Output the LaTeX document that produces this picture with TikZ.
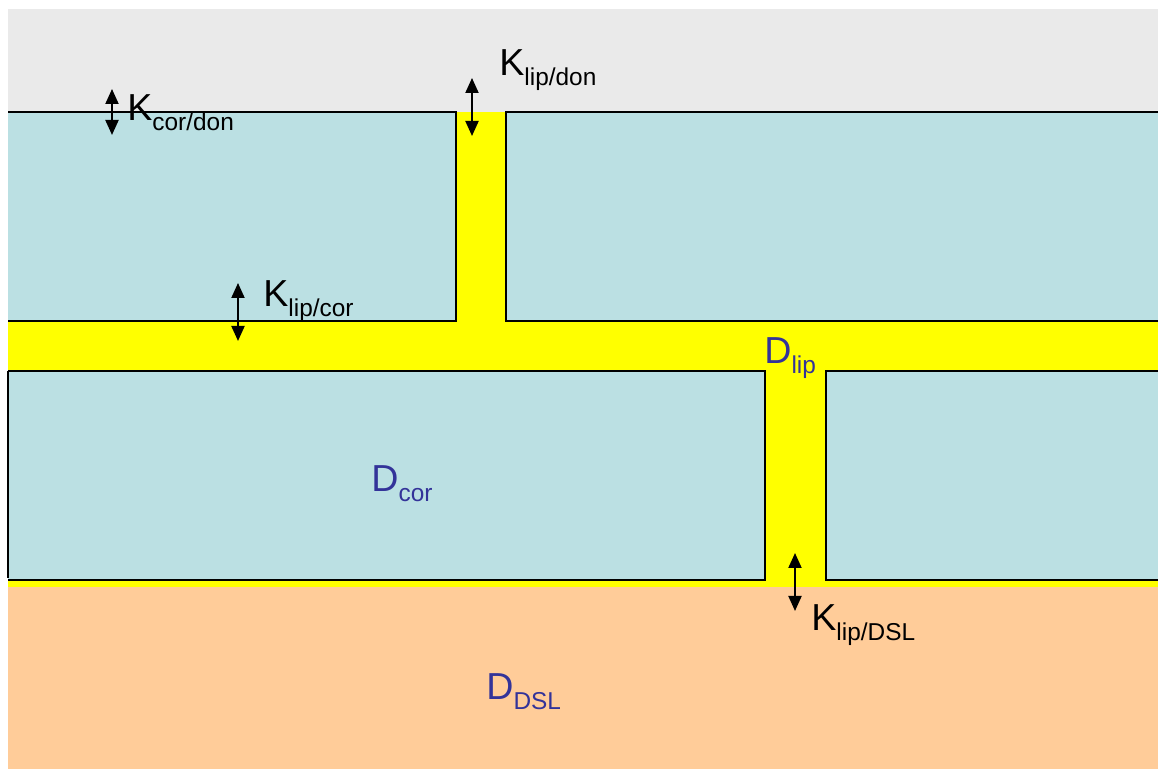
\documentclass[tikz,border=0pt]{standalone}
\usepackage{fontspec}
\setmainfont{Liberation Sans}
\usetikzlibrary{arrows.meta}
\definecolor{donor}{HTML}{EAEAEA}
\definecolor{cortex}{HTML}{BBE0E3}
\definecolor{lipid}{HTML}{FFFF00}
\definecolor{dsl}{HTML}{FFCC99}
\definecolor{dlabel}{HTML}{333399}
\newcommand{\lbl}[2]{\fontsize{18.8}{21}\selectfont #1\raisebox{-5pt}{\fontsize{12.2}{14}\selectfont #2}}
\tikzset{
  edge/.style={draw=black, line width=0.75pt},
  kflux/.style={line width=1pt, {Triangle[width=6.5pt,length=7.5pt]}-{Triangle[width=6.5pt,length=7.5pt]}},
  klabel/.style={anchor=base west, inner sep=0pt, text=black},
  dtext/.style={anchor=base west, inner sep=0pt, text=dlabel}
}
\begin{document}
\begin{tikzpicture}[x=0.5pt,y=-0.5pt]
\useasboundingbox (0,0) rectangle (1158,769);
\fill[white] (0,0) rectangle (1158,769);
% donor (gray) layer
\fill[donor] (8,9) rectangle (1158,112);
% lipid (yellow) region
\fill[lipid] (8,112) rectangle (1158,587);
% DSL (orange) layer
\fill[dsl] (8,587) rectangle (1158,769);
% corneocytes
\fill[cortex] (8,112) rectangle (456,321);
\fill[cortex] (506,112) rectangle (1158,321);
\fill[cortex] (8,371) rectangle (765,580);
\fill[cortex] (826,371) rectangle (1158,580);
% outlines
\draw[edge] (8,112) -- (456,112) -- (456,321) -- (8,321);
\draw[edge] (1158,112) -- (506,112) -- (506,321) -- (1158,321);
\draw[edge] (8,371) -- (765,371) -- (765,580) -- (8,580);
\draw[line width=1.1pt] (8,371) -- (8,578);
\draw[edge] (1158,371) -- (826,371) -- (826,580) -- (1158,580);
% flux arrows
\coordinate (kcdA) at (112,89);  \coordinate (kcdB) at (112,135);
\coordinate (kldA) at (472,78);  \coordinate (kldB) at (472,136);
\coordinate (klcA) at (238,283); \coordinate (klcB) at (238,341);
\coordinate (klsA) at (795,553); \coordinate (klsB) at (795,611);
\draw[kflux] (kcdA) -- (kcdB);
\draw[kflux] (kldA) -- (kldB);
\draw[kflux] (klcA) -- (klcB);
\draw[kflux] (klsA) -- (klsB);
% labels
\node[klabel] (kcd) at (127,121) {\lbl{K}{cor/don}};
\node[klabel] (kld) at (499,76) {\lbl{K}{lip/don}};
\node[klabel] (klc) at (263,307) {\lbl{K}{lip/cor}};
\node[klabel] (kls) at (811,631) {\lbl{K}{lip/DSL}};
\node[dtext] (dlip) at (764,364) {\lbl{D}{lip}};
\node[dtext] (dcor) at (371,492) {\lbl{D}{cor}};
\node[dtext] (ddsl) at (486,700) {\lbl{D}{DSL}};
\end{tikzpicture}
\end{document}
